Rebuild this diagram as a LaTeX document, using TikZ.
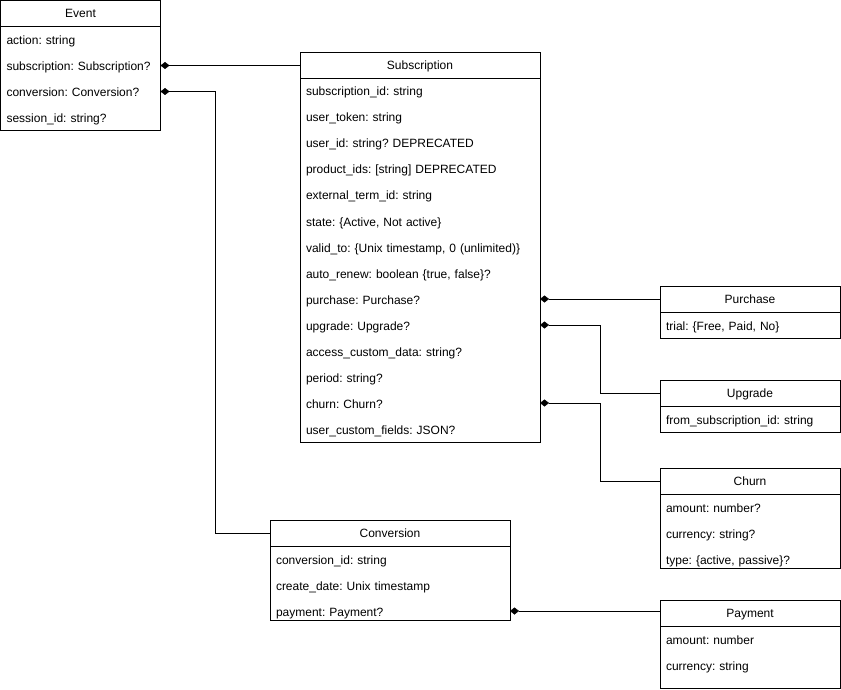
\documentclass[tikz,border=0pt]{standalone}
\usepackage{fontspec}
\setmainfont{Liberation Sans}
\frenchspacing
\usetikzlibrary{positioning, arrows.meta}
\tikzset{
	header/.style = {draw=black, minimum height=26pt, minimum width=#1, inner sep=0pt, outer sep=0pt, text height=10.5pt, text depth=1.5pt, anchor=north west},
	field/.style = {minimum height=26pt, inner xsep=6pt, inner ysep=0pt, outer sep=0pt, text height=11pt, text depth=1pt, text width=#1, align=left},
	body/.style = {draw=black},
	line/.style = {draw, {Diamond[length=9pt, width=7pt]}-}
}

\begin{document}
\begin{tikzpicture}[x=1pt, y=-1pt, node distance=0pt, font=\fontsize{12}{14}\selectfont]
		\useasboundingbox (0,0) rectangle (841,690);
		%Event
		\node (evhdr) [header=160pt] at (0.5,0.5) {Event};
		\node (evact) [field=148pt, below=of evhdr] {action: string};
		\node (evsub) [field=148pt, below=of evact] {subscription: Subscription?};
		\node (evconv) [field=148pt, below=of evsub] {conversion: Conversion?};
		\node (evsess) [field=148pt, below=of evconv] {session\_id: string?};
		\path [body] (evhdr.north west) rectangle (evsess.south -| evhdr.east);

		%Subscription
		\node (subhdr) [header=240pt] at (300,52) {Subscription};
		\node (subid) [field=228pt, below=of subhdr] {subscription\_id: string};
		\node (subtok) [field=228pt, below=of subid] {user\_token: string};
		\node (subuser) [field=228pt, below=of subtok] {user\_id: string? DEPRECATED};
		\node (subprod) [field=228pt, below=of subuser] {product\_ids: [string] DEPRECATED};
		\node (subext) [field=228pt, below=of subprod] {external\_term\_id: string};
		\node (substate) [field=228pt, below=of subext] {state: \{Active, Not active\}};
		\node (subvalid) [field=228pt, below=of substate] {valid\_to: \{Unix timestamp, 0 (unlimited)\}};
		\node (subauto) [field=228pt, below=of subvalid] {auto\_renew: boolean \{true, false\}?};
		\node (subpur) [field=228pt, below=of subauto] {purchase: Purchase?};
		\node (subupg) [field=228pt, below=of subpur] {upgrade: Upgrade?};
		\node (subacc) [field=228pt, below=of subupg] {access\_custom\_data: string?};
		\node (subper) [field=228pt, below=of subacc] {period: string?};
		\node (subchurn) [field=228pt, below=of subper] {churn: Churn?};
		\node (subcust) [field=228pt, below=of subchurn] {user\_custom\_fields: JSON?};
		\path [body] (subhdr.north west) rectangle (subcust.south -| subhdr.east);

		%Purchase
		\node (purhdr) [header=180pt] at (660,286) {Purchase};
		\node (purtrial) [field=168pt, below=of purhdr] {trial: \{Free, Paid, No\}};
		\path [body] (purhdr.north west) rectangle (purtrial.south -| purhdr.east);

		%Upgrade
		\node (upghdr) [header=180pt] at (660,380) {Upgrade};
		\node (upgfrom) [field=168pt, below=of upghdr] {from\_subscription\_id: string};
		\path [body] (upghdr.north west) rectangle (upgfrom.south -| upghdr.east);

		%Churn
		\node (churnhdr) [header=180pt] at (660,468) {Churn};
		\node (churnamt) [field=168pt, below=of churnhdr] {amount: number?};
		\node (churncur) [field=168pt, below=of churnamt] {currency: string?};
		\node (churntype) [field=168pt, below=of churncur] {type: \{active, passive\}?};
		\path [body] (churnhdr.north west) rectangle ([yshift=4pt]churntype.south -| churnhdr.east);

		%Conversion
		\node (convhdr) [header=240pt] at (270,520) {Conversion};
		\node (convid) [field=228pt, below=of convhdr] {conversion\_id: string};
		\node (convdate) [field=228pt, below=of convid] {create\_date: Unix timestamp};
		\node (convpay) [field=228pt, below=of convdate] {payment: Payment?};
		\path [body] (convhdr.north west) rectangle ([yshift=4pt]convpay.south -| convhdr.east);

		%Payment
		\node (payhdr) [header=180pt] at (660,600) {Payment};
		\node (payamt) [field=168pt, below=of payhdr] {amount: number};
		\node (paycur) [field=168pt, below=of payamt] {currency: string};
		\path [body] (payhdr.north west) rectangle ([yshift=-10pt]paycur.south -| payhdr.east);

		%Verbindungen
		\path [line] (evsub.east) -- (evsub.east -| subhdr.west);
		\path [line] (evconv.east) -- ++(55,0) |- (convhdr.west);
		\path [line] (subpur.east) -- (subpur.east -| purhdr.west);
		\path [line] (subupg.east) -- ++(60,0) |- (upghdr.west);
		\path [line] (subchurn.east) -- ++(60,0) |- (churnhdr.west);
		\path [line] (convpay.east) -- (convpay.east -| payhdr.west);
\end{tikzpicture}
\end{document}
